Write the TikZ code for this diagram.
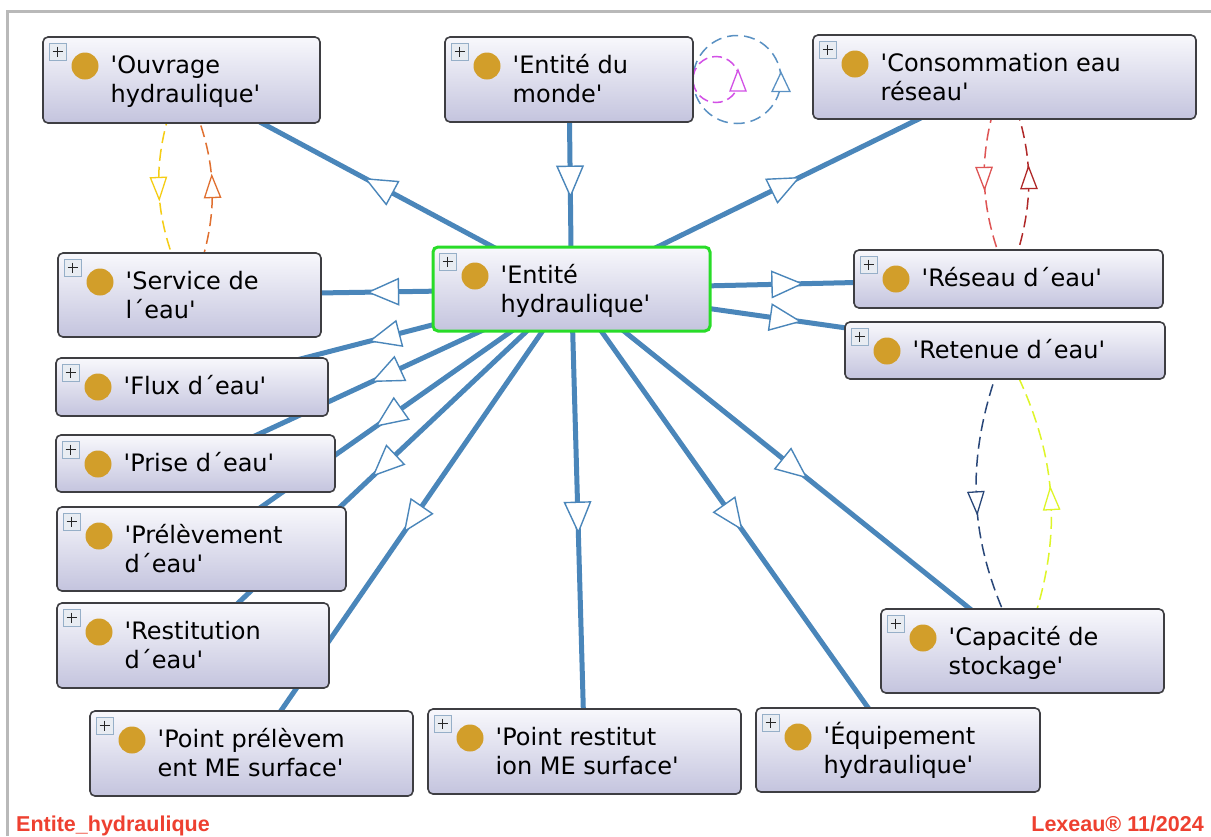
\documentclass[tikz,border=0pt]{standalone}
\usepackage{fontspec}
\newfontfamily\nf{DejaVu Sans}
\newfontfamily\ff{Liberation Sans}
\usetikzlibrary{decorations.markings}
\pgfdeclarelayer{background}
\pgfdeclarelayer{arrowlayer}
\pgfsetlayers{background,arrowlayer,main}
\definecolor{edgeblue}{RGB}{74,134,186}
\definecolor{boxborder}{RGB}{62,62,66}
\definecolor{boxtop}{RGB}{248,248,252}
\definecolor{boxbot}{RGB}{196,196,222}
\definecolor{gold}{RGB}{210,158,42}
\definecolor{selgreen}{RGB}{40,220,40}
\definecolor{iconborder}{RGB}{150,175,200}
\definecolor{iconfill}{RGB}{232,236,242}
\definecolor{framegray}{RGB}{185,185,185}
\definecolor{footred}{RGB}{238,64,48}
\definecolor{cyellow}{RGB}{245,205,20}
\definecolor{corange}{RGB}{224,112,48}
\definecolor{clred}{RGB}{222,84,84}
\definecolor{cdred}{RGB}{176,40,40}
\definecolor{cnavy}{RGB}{40,70,120}
\definecolor{cygreen}{RGB}{222,245,40}
\definecolor{cloopb}{RGB}{90,145,195}
\definecolor{cmag}{RGB}{210,80,230}
\tikzset{
  clsbox/.style={rectangle, rounded corners=5pt, draw=boxborder, line width=1.6pt,
    top color=boxtop, bottom color=boxbot, outer sep=0pt, inner sep=0pt, anchor=north west},
  clstext/.style={anchor=base west, inner sep=0pt, font=\nf\fontsize{24}{29}\selectfont},
  plusicon/.style={draw=iconborder, fill=iconfill, line width=1pt},
  mainedge/.style={draw=edgeblue, line width=5pt},
  mainarrow/.style={postaction={decorate}, decoration={markings, mark=at position 0.5 with
    {\draw[draw=edgeblue, line width=1.4pt, fill=white, line join=miter] (12pt,0pt) -- (-18pt,13pt) -- (-18pt,-13pt) -- cycle;}}},
  dashedge/.style={draw=#1, line width=1.5pt, dash pattern=on 12pt off 6pt,
    postaction={decorate}, decoration={markings, mark=at position 0.5 with
    {\draw[draw=#1, solid, line width=1.3pt, fill=white] (11pt,0pt) -- (-11pt,8pt) -- (-11pt,-8pt) -- cycle;}}},
  footer/.style={text=footred, inner sep=0pt, font=\ff\bfseries\fontsize{21.5}{25}\selectfont}
}
\newcommand\clsnode[7][]{%
  \node[clsbox, minimum width={(#5-#3)*1pt}, minimum height={(#6-#4)*1pt}, #1] (#2) at (#3,#4) {};
  \draw[plusicon] ([xshift=6pt,yshift=-6pt]#2.north west) rectangle ++(17,17);
  \draw[line width=1.8pt, black!85] ([xshift=14.5pt,yshift=-14.5pt]#2.north west) +(-5,0) -- +(5,0) +(0,-5) -- +(0,5);
  \fill[gold] ([xshift=42pt,yshift=-29pt]#2.north west) circle (13.5pt);
  \node[clstext] at ([xshift=67.5pt,yshift=-36pt]#2.north west) {\begin{tabular}[t]{@{}l@{}}#7\end{tabular}};
}
\newcommand\q{\textquotesingle}
\begin{document}
\begin{tikzpicture}[x=1pt,y=-1pt]
\useasboundingbox (0,0) rectangle (1211,836);

\clsnode{ouv}{43}{37}{320}{123}{\q Ouvrage\\hydraulique\q}
\clsnode{mon}{445}{37}{693}{122}{\q Entité du\\monde\q}
\clsnode{con}{813}{35}{1196}{119}{\q Consommation eau\\réseau\q}
\clsnode{res}{854}{250}{1163}{308}{\q Réseau d´eau\q}
\clsnode[draw=selgreen, line width=3pt]{hyd}{433}{247}{710}{331}{\q Entité\\hydraulique\q}
\clsnode{ser}{58}{253}{321}{337}{\q Service de\\l´eau\q}
\clsnode{flu}{56}{358}{328}{416}{\q Flux d´eau\q}
\clsnode{pri}{56}{435}{335}{492}{\q Prise d´eau\q}
\clsnode{pre}{57}{507}{346}{591}{\q Prélèvement\\d´eau\q}
\clsnode{rst}{57}{603}{329}{688}{\q Restitution\\d´eau\q}
\clsnode{ppm}{90}{711}{413}{796}{\q Point prélèvem\\ent ME surface\q}
\clsnode{prs}{428}{709}{741}{794}{\q Point restitut\\ion ME surface\q}
\clsnode{equ}{756}{708}{1040}{792}{\q Équipement\\hydraulique\q}
\clsnode{cap}{881}{609}{1164}{693}{\q Capacité de\\stockage\q}
\clsnode{ret}{845}{322}{1165}{379}{\q Retenue d´eau\q}

\begin{pgfonlayer}{background}
  \fill[white] (0,0) rectangle (1211,836);
  \draw[framegray, line width=3pt] (7,836) -- (7,11) -- (1211,11);
  \foreach \a/\b in {mon/hyd, hyd/ouv, hyd/con, hyd/ser, hyd/flu, hyd/pri, hyd/pre, hyd/rst,
                     hyd/ppm, hyd/prs, hyd/equ, hyd/cap, hyd/res, hyd/ret}
    \draw[mainedge] (\a.center) -- (\b.center);
  \draw[dashedge=cyellow] (ouv.center) to[bend right=25] (ser.center);
  \draw[dashedge=corange] (ser.center) to[bend right=25] (ouv.center);
  \draw[dashedge=clred] (con.center) to[bend right=22] (res.center);
  \draw[dashedge=cdred] (res.center) to[bend right=22] (con.center);
  \draw[dashedge=cnavy] (ret.center) to[bend right=25] (cap.center);
  \draw[dashedge=cygreen] (cap.center) to[bend right=25] (ret.center);
  \draw[cloopb, line width=1.5pt, dash pattern=on 11pt off 6pt] ([xshift=44pt]mon.east) circle (44pt);
  \draw[cloopb, line width=1.3pt, fill=white] ([xshift=88pt,yshift=7pt]mon.east) -- ([xshift=79pt,yshift=-12pt]mon.east) -- ([xshift=97pt,yshift=-12pt]mon.east) -- cycle;
  \draw[cmag, line width=1.5pt, dash pattern=on 10pt off 5pt] ([xshift=23pt]mon.east) circle (23pt);
  \draw[cmag, line width=1.3pt, fill=white] ([xshift=45pt,yshift=9.5pt]mon.east) -- ([xshift=37pt,yshift=-11.5pt]mon.east) -- ([xshift=53pt,yshift=-11.5pt]mon.east) -- cycle;
\end{pgfonlayer}
\begin{pgfonlayer}{arrowlayer}
  \foreach \a/\b in {mon/hyd, hyd/ouv, hyd/con, hyd/ser, hyd/flu, hyd/pri, hyd/pre, hyd/rst,
                     hyd/ppm, hyd/prs, hyd/equ, hyd/cap, hyd/res, hyd/ret}
    \path[mainarrow] (\a.center) -- (\b.center);
\end{pgfonlayer}

\node[footer, anchor=base west] (lblname) at (16,831) {Entite\_hydraulique};
\node[footer, anchor=base east] (lbldate) at (1204,831) {Lexeau® 11/2024};
\end{tikzpicture}
\end{document}
